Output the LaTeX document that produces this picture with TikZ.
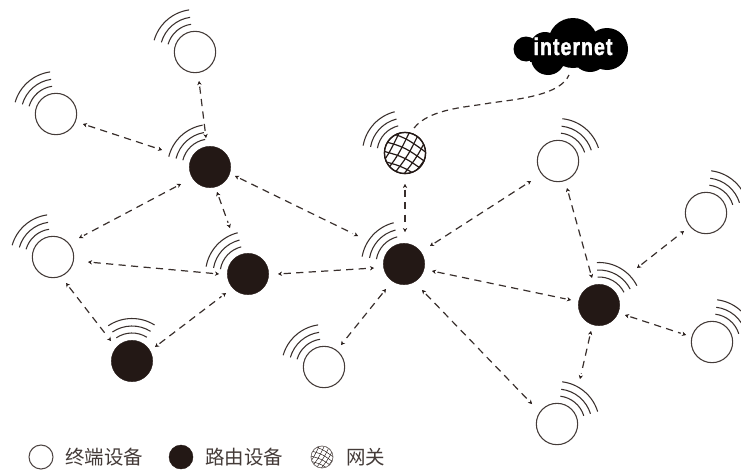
\documentclass[tikz,border=0pt]{standalone}
\usepackage{fontspec}
\usetikzlibrary{arrows.meta}
\newfontfamily\cjkfont{Noto Sans CJK SC}
\newfontfamily\cloudfont[FakeStretch=0.82,FakeBold=1.6,LetterSpace=4]{Liberation Sans Bold}
\definecolor{ink}{HTML}{231815}
\tikzset{
  termdev/.style={circle,draw=ink!85,line width=.8pt,fill=white,minimum size=31pt,inner sep=0pt},
  routerdev/.style={circle,fill=ink,draw=ink,line width=.3pt,minimum size=31pt,inner sep=0pt},
  gatedev/.style={circle,draw=ink,line width=.9pt,fill=white,minimum size=31pt,inner sep=0pt},
  legT/.style={circle,draw=ink!80,line width=.8pt,fill=white,minimum size=18pt,inner sep=0pt},
  legR/.style={circle,fill=ink,draw=ink,line width=.3pt,minimum size=18pt,inner sep=0pt},
  legG/.style={circle,draw=ink!60,line width=.4pt,fill=white,minimum size=16.5pt,inner sep=0pt},
  wave/.style={draw=ink!90,line width=.8pt},
  link/.style={draw=ink!90,line width=.9pt,dash pattern=on 5.4pt off 4pt,shorten <=4.2pt,shorten >=4.2pt},
  linktip/.style={draw=ink,line width=.3pt,dash pattern=on 0pt off 2000pt,{Stealth[length=3pt,width=3.2pt]}-{Stealth[length=3pt,width=3.2pt]}},
  cloudlink/.style={draw=ink!90,line width=.9pt,dash pattern=on 4.8pt off 3.4pt},
  legtext/.style={font=\cjkfont\fontsize{14.6}{16}\selectfont,text=ink!85,inner sep=0pt},
}
\newcommand\wavesat[2]{\foreach \rr in {28,35,42.5}{\draw[wave] ([shift={({-(#2-33)}:\rr)}]#1.center) arc[start angle={-(#2-33)},delta angle=-66,radius=\rr];}}
\newcommand\linkfrom[6]{\draw[link] ([shift={(#2,#3)}]#1.center) -- ([shift={(#5,#6)}]#4.center);
  \draw[linktip] ([shift={(#2,#3)}]#1.center) -- ([shift={(#5,#6)}]#4.center);}
\newcommand\meshat[3]{\begin{scope}[shift={(#1.center)},scale=#2]
  \clip (0,0) circle (21);
  \foreach \d in {-40,-30,...,40}{\draw[draw=ink,line width=#3] (-26,\d-13) .. controls (0,\d-6) .. (26,\d+13);}
  \foreach \d in {-40,-30,...,40}{\draw[draw=ink,line width=#3] (\d-15,26) .. controls (\d+3,3) .. (\d+17,-26);}
\end{scope}}
\begin{document}
\begin{tikzpicture}[x=0.75pt,y=-0.75pt]
\clip (0,0) rectangle (741,471);
\useasboundingbox (0,0) rectangle (741,471);
% devices
\node[termdev] (T1) at (195,52) {};
\node[termdev] (T2) at (56,114) {};
\node[termdev] (T3) at (53,257) {};
\node[termdev] (T4) at (558,161) {};
\node[termdev] (T5) at (706,213) {};
\node[termdev] (T6) at (712,342) {};
\node[termdev] (T7) at (557,424) {};
\node[termdev] (T8) at (324,367) {};
\node[routerdev] (R1) at (210,167) {};
\node[routerdev] (R2) at (248,274) {};
\node[routerdev] (R3) at (132,361) {};
\node[routerdev] (R4) at (404,264) {};
\node[routerdev] (R5) at (599,305) {};
\node[gatedev] (G) at (405,153) {};
\meshat{G}{1}{.9pt}
\draw[ink,line width=.9pt] (G.center) circle (20.5);
% waves
\wavesat{T1}{131}\wavesat{T2}{131}\wavesat{T3}{131}\wavesat{T8}{131}
\wavesat{T4}{51}\wavesat{T5}{50}\wavesat{T6}{50}\wavesat{T7}{50}
\wavesat{R1}{133}\wavesat{R2}{137}\wavesat{R3}{91}\wavesat{R4}{137}\wavesat{R5}{60}
\wavesat{G}{137}
% links
\linkfrom{T1}{4}{29}{R1}{-4}{-29}
\linkfrom{T2}{27}{10}{R1}{-48}{-17}
\linkfrom{R1}{25}{9}{R4}{-46}{-28}
\linkfrom{R1}{-29}{17}{T3}{26}{-19}
\linkfrom{R1}{7}{25}{R2}{-18}{-46}
\linkfrom{T3}{35}{5}{R2}{-29}{0}
\linkfrom{T3}{13}{26}{R3}{-21}{-20}
\linkfrom{R3}{23}{-14}{R2}{-22}{19}
\linkfrom{R2}{30}{0}{R4}{-30}{4}
\linkfrom{G}{0}{31}{R4}{1}{-32}
\linkfrom{R4}{26}{-18}{T4}{-27}{20}
\linkfrom{R4}{-18}{25}{T8}{17}{-22}
\linkfrom{R4}{18}{26}{T7}{-25}{-20}
\linkfrom{R4}{28}{7}{R5}{-28}{-5}
\linkfrom{R5}{-7}{-27}{T4}{9}{27}
\linkfrom{R5}{38}{-37}{T5}{-22}{18}
\linkfrom{R5}{26}{10}{T6}{-26}{-7}
\linkfrom{R5}{-8}{26}{T7}{23}{-45}
% cloud
\fill[black] (526,49) circle (12.5) (548,58) circle (17) (590,54) circle (18)
  (607,49) circle (21) (573,43) circle (25) (545,47) circle (15);
\fill[black] (530,40) rectangle (610,62);
\node[anchor=base,text=white,inner sep=0pt,font=\cloudfont\fontsize{18}{20}\selectfont] (cloud) at (573,55) {internet};
\draw[cloudlink] ([shift={(9,-25)}]G.center) .. controls (430,108) and (470,107) .. (490,103) .. controls (520,99) and (560,95) .. ([shift={(-4,20)}]cloud.base);
% legend
\node[legT] (lgT) at (41,457) {};
\node[legR] (lgR) at (181,457) {};
\node[legG] (lgG) at (322,457) {};
\meshat{lgG}{.52}{.35pt}
\draw[ink!60,line width=.4pt] (lgG.center) circle (11);
\node[legtext,anchor=west] (lgTt) at (65,457) {终端设备};
\node[legtext,anchor=west] (lgRt) at (205,457) {路由设备};
\node[legtext,anchor=west] (lgGt) at (346,457) {网关};
\end{tikzpicture}
\end{document}
